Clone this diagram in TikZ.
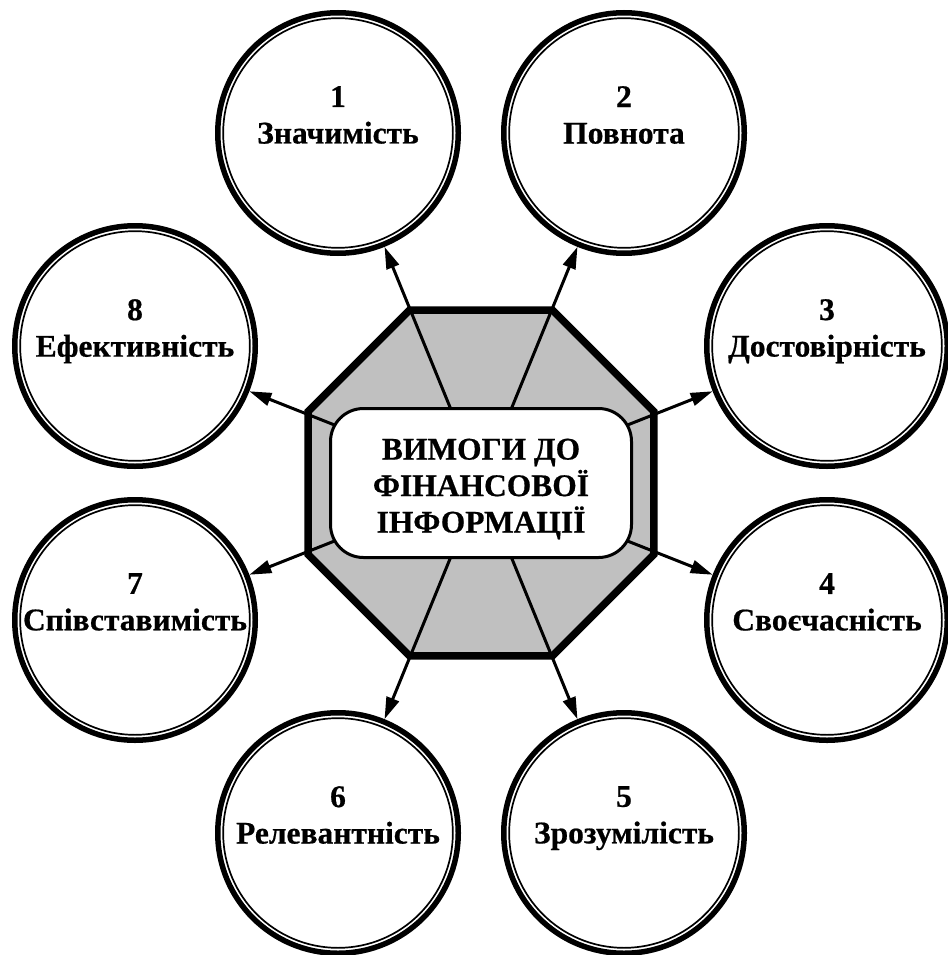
\documentclass[tikz,border=0pt]{standalone}
\usepackage{fontspec}
\setmainfont{Liberation Serif}[BoldFeatures={FakeBold=0.6}]
\usetikzlibrary{arrows.meta,calc}
\pgfdeclarelayer{bg}
\pgfsetlayers{bg,main}
\definecolor{octfill}{RGB}{192,192,192}
\begin{document}
\begin{tikzpicture}[x=1pt,y=-1pt,
  ring/.style={circle, minimum size=246pt, inner sep=0pt, outer sep=0pt},
  lbl/.style={align=center, inner sep=0pt, anchor=north,
    font=\bfseries\fontsize{31.5}{36.5}\selectfont},
  hub/.style={draw, line width=3pt, fill=white, rounded corners=33pt,
    minimum width=301pt, minimum height=149pt, inner sep=0pt},
  hubtext/.style={align=center, inner sep=0pt,
    font=\bfseries\fontsize{31.5}{36.5}\selectfont},
  spoke/.style={line width=3pt, -{Triangle[length=22pt,width=13pt]}},
  octagon/.style={fill=octfill, draw, line width=7.5pt, line join=miter},
  outerring/.style={line width=5.5pt},
  innerring/.style={line width=1.7pt}]
\useasboundingbox (0,0) rectangle (947,955);
\coordinate (o) at (481,483);

% central box and its title
\node[hub] (ctr) at (o) {};
\node[hubtext] (title) at ($(o)+(0,6)$) {ВИМОГИ ДО\\ФІНАНСОВОЇ\\ІНФОРМАЦІЇ};

% the eight requirement circles
\foreach \i/\dx/\dy in {1/-143/-350, 2/143/-350, 3/346/-137, 4/346/137,
                        5/143/350, 6/-143/350, 7/-346/137, 8/-346/-137}
  \node[ring] (c\i) at ($(o)+(\dx,\dy)$) {};

\foreach \i in {1,...,8} {
  \draw[outerring] (c\i.center) circle (120.25);
  \draw[innerring] (c\i.center) circle (114.85);
}

\foreach \i/\t in {1/Значимість, 2/Повнота, 3/Достовірність, 4/Своєчасність,
                   5/Зрозумілість, 6/Релевантність, 7/Співставимість, 8/Ефективність}
  \node[lbl] (t\i) at ($(c\i.center)+(0,-47)$) {\i\\\t};

% octagon and spokes behind the central box
\begin{pgfonlayer}{bg}
  \draw[octagon] ($(o)+(22.5:187)$) -- ($(o)+(67.5:187)$) -- ($(o)+(112.5:187)$)
    -- ($(o)+(157.5:187)$) -- ($(o)+(202.5:187)$) -- ($(o)+(247.5:187)$)
    -- ($(o)+(292.5:187)$) -- ($(o)+(337.5:187)$) -- cycle;
  \foreach \i in {1,...,8}
    \draw[spoke] (ctr.center) -- (c\i);
\end{pgfonlayer}
\end{tikzpicture}
\end{document}
